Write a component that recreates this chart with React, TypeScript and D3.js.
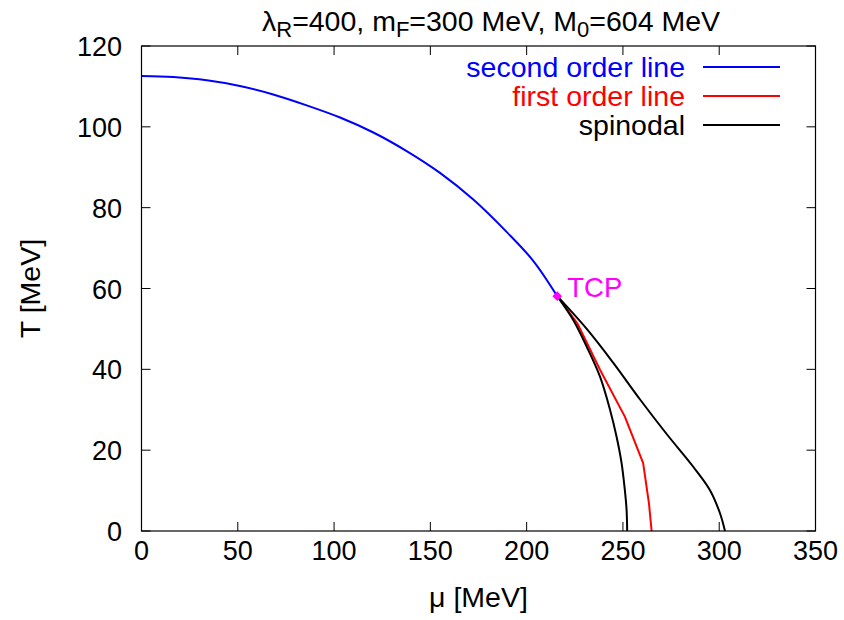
import * as d3 from "d3";

// second order line (blue), mu -> T
const secondMu = [0, 16.5, 33.9, 51.1, 68.4, 85.8, 103.1, 120.4, 137.7, 155.0, 172.3, 189.6, 203.5, 215.9];
const secondT = [112.6, 112.3, 111.5, 110.1, 108.0, 105.3, 102.3, 98.6, 94.0, 88.6, 82.0, 74.0, 66.8, 58.1];

// first order line (red)
const firstMu = [215.9, 226.3, 238.1, 251.0, 260.5, 263.5, 264.9];
const firstT = [58.1, 51.4, 39.9, 28.3, 16.8, 6.9, 0];

// spinodals (black)
const spinInnerMu = [215.9, 224.2, 231.2, 238.1, 243.3, 246.7, 249.3, 251.0, 251.9, 252.2];
const spinInnerT = [58.1, 52.2, 45.6, 38.2, 30.0, 23.3, 16.8, 10.1, 5.2, 0];
const spinOuterMu = [215.9, 231.2, 245.0, 258.8, 272.7, 286.5, 295.2, 300.4, 303.0];
const spinOuterT = [58.1, 50.0, 41.6, 32.6, 24.0, 15.9, 10.1, 4.4, 0];

const tcp = { mu: 215.9, T: 58.1 };

const xTicks = [0, 50, 100, 150, 200, 250, 300, 350];
const yTicks = [0, 20, 40, 60, 80, 100, 120];

const legendItems = [
  { label: "second order line", color: "#0000ff" },
  { label: "first order line", color: "#ff0000" },
  { label: "spinodal", color: "#000000" },
];

const width = 844;
const height = 620;
const margin = { top: 46, right: 28.5, bottom: 89, left: 141.5 };
const font = "'Liberation Sans', Arial, Helvetica, sans-serif";

const zip = (xs: number[], ys: number[]) => xs.map((x, i) => [x, ys[i]] as [number, number]);

export default function App() {
  const x = d3.scaleLinear().domain([0, 350]).range([margin.left, width - margin.right]);
  const y = d3.scaleLinear().domain([0, 120]).range([height - margin.bottom, margin.top]);

  const smooth = d3.line<[number, number]>()
    .x((d) => x(d[0]))
    .y((d) => y(d[1]))
    .curve(d3.curveCatmullRom.alpha(0.5));
  const straight = d3.line<[number, number]>()
    .x((d) => x(d[0]))
    .y((d) => y(d[1]));

  const x0 = x(0), x1 = x(350), y0 = y(0), y1 = y(120);
  const tick = 9;

  return (
    <svg width={width} height={height} style={{ position: "absolute", left: 0, top: 0, background: "#fff" }}
      fontFamily={font}>
      {/* title */}
      <text x={491} y={31} fontSize={28.5} textAnchor="middle" fill="#000">
        λ<tspan fontSize={22} dy={6}>R</tspan>
        <tspan dy={-6}>=400, m</tspan>
        <tspan fontSize={22} dy={6}>F</tspan>
        <tspan dy={-6}>=300 MeV, M</tspan>
        <tspan fontSize={22} dy={6}>0</tspan>
        <tspan dy={-6}>=604 MeV</tspan>
      </text>

      {/* ticks */}
      <g stroke="#000" strokeWidth={1}>
        {xTicks.map((t) => (
          <g key={"xt" + t}>
            <line x1={x(t)} x2={x(t)} y1={y0} y2={y0 - tick} />
            <line x1={x(t)} x2={x(t)} y1={y1} y2={y1 + tick} />
          </g>
        ))}
        {yTicks.map((t) => (
          <g key={"yt" + t}>
            <line x1={x0} x2={x0 + tick} y1={y(t)} y2={y(t)} />
            <line x1={x1} x2={x1 - tick} y1={y(t)} y2={y(t)} />
          </g>
        ))}
      </g>

      {/* tick labels */}
      <g fontSize={27} fill="#000">
        {xTicks.map((t) => (
          <text key={"xl" + t} x={x(t)} y={560} textAnchor="middle">{t}</text>
        ))}
        {yTicks.map((t) => (
          <text key={"yl" + t} x={122} y={y(t) + 10} textAnchor="end">{t}</text>
        ))}
      </g>

      {/* axis labels */}
      <text x={(x0 + x1) / 2} y={607} fontSize={28.5} textAnchor="middle">μ [MeV]</text>
      <text transform={`translate(40, ${(y0 + y1) / 2}) rotate(-90)`} fontSize={28.5} textAnchor="middle">T [MeV]</text>

      {/* curves */}
      <g fill="none" strokeWidth={2} strokeLinejoin="round">
        <path d={smooth(zip(secondMu, secondT)) ?? ""} stroke="#0000ff" />
        <path d={straight(zip(firstMu, firstT)) ?? ""} stroke="#ff0000" />
        <path d={smooth(zip(spinInnerMu, spinInnerT)) ?? ""} stroke="#000" />
        <path d={smooth(zip(spinOuterMu, spinOuterT)) ?? ""} stroke="#000" />
      </g>

      {/* TCP */}
      <path d={d3.symbol(d3.symbolDiamond2, 60)() ?? ""} transform={`translate(${x(tcp.mu)},${y(tcp.T)})`} fill="#ff00ff" />
      <text x={x(tcp.mu) + 10} y={y(tcp.T) + 1} fontSize={27.5} fill="#ff00ff">TCP</text>

      {/* legend */}
      {legendItems.map((d, i) => {
        const ly = 67 + i * 29;
        return (
          <g key={d.label}>
            <text x={685} y={ly + 10} fontSize={28.5} textAnchor="end" fill={d.color}>{d.label}</text>
            <line x1={703} x2={780} y1={ly} y2={ly} stroke={d.color} strokeWidth={2} />
          </g>
        );
      })}

      {/* frame */}
      <rect x={x0} y={y1} width={x1 - x0} height={y0 - y1} fill="none" stroke="#000" strokeWidth={1.2} />
    </svg>
  );
}
